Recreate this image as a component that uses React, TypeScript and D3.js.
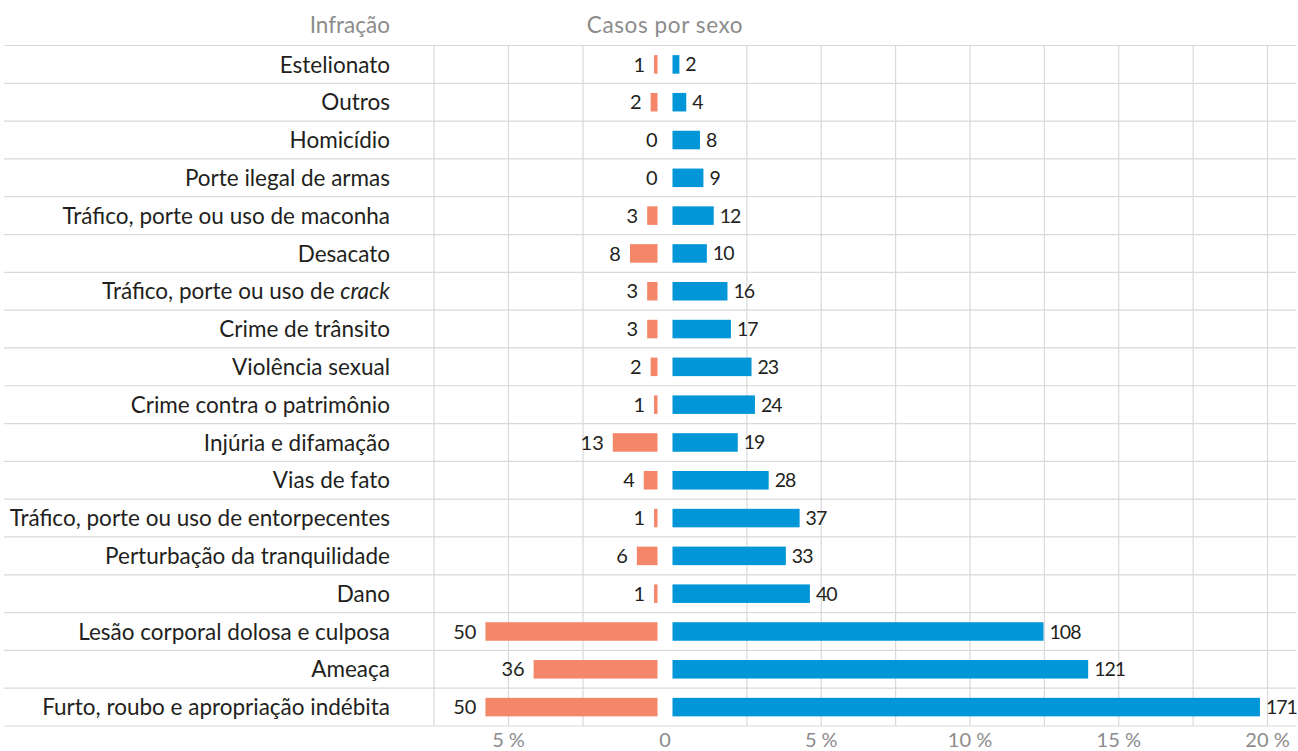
import * as d3 from "d3";

const categories = [
  "Estelionato",
  "Outros",
  "Homicídio",
  "Porte ilegal de armas",
  "Tráfico, porte ou uso de maconha",
  "Desacato",
  "Tráfico, porte ou uso de crack",
  "Crime de trânsito",
  "Violência sexual",
  "Crime contra o patrimônio",
  "Injúria e difamação",
  "Vias de fato",
  "Tráfico, porte ou uso de entorpecentes",
  "Perturbação da tranquilidade",
  "Dano",
  "Lesão corporal dolosa e culposa",
  "Ameaça",
  "Furto, roubo e apropriação indébita",
];
const female = [1, 2, 0, 0, 3, 8, 3, 3, 2, 1, 13, 4, 1, 6, 1, 50, 36, 50];
const male = [2, 4, 8, 9, 12, 10, 16, 17, 23, 24, 19, 28, 37, 33, 40, 108, 121, 171];
const femaleGrid = [0.025, 0.05, 0.075];
const maleGrid = [0.025, 0.05, 0.075, 0.1, 0.125, 0.15, 0.175, 0.2];
const femaleTicks = [0.05];
const maleTicks = [0.05, 0.1, 0.15, 0.2];

const W = 1298;
const H = 751;
const FONT = "Lato, 'Open Sans', sans-serif";
const FEMALE = "#f4866a";
const MALE = "#0096d8";
const GRID = "#d9d9d9";
const GREY = "#8c8c8c";
const INK = "#231f20";

export default function App() {
  const total = d3.sum(female) + d3.sum(male);

  const y = d3.scaleBand().domain(categories).range([45.5, 726]);
  const xF = d3.scaleLinear().domain([0, 0.075]).range([657.5, 434]);
  const xM = d3.scaleLinear().domain([0, 0.2]).range([672.5, 1267.5]);
  const barH = y.bandwidth() * 0.49;
  const pct = d3.format(".0%");
  const fmt = (v: number) => pct(v).replace("%", " %");

  return (
    <svg
      width={W}
      height={H}
      style={{ position: "absolute", left: 0, top: 0, fontFamily: FONT }}
    >
      <rect width={W} height={H} fill="#fff" />

      {/* header */}
      <text x={390} y={33} textAnchor="end" fontSize={22.5} fill={GREY}>
        Infração
      </text>
      <text x={665} y={33} textAnchor="middle" fontSize={22.5} fill={GREY} letterSpacing={0.6}>
        Casos por sexo
      </text>

      {/* grid */}
      {d3.range(categories.length + 1).map((i) => {
        const yy = i < categories.length ? y(categories[i])! : y.range()[1];
        return <line key={"h" + i} x1={4} x2={1296} y1={yy} y2={yy} stroke={GRID} strokeWidth={1.2} />;
      })}
      {femaleGrid.map((d) => (
        <line key={"fg" + d} x1={xF(d)} x2={xF(d)} y1={45.5} y2={726} stroke={GRID} strokeWidth={1.2} />
      ))}
      {maleGrid.map((d) => (
        <line key={"mg" + d} x1={xM(d)} x2={xM(d)} y1={45.5} y2={726} stroke={GRID} strokeWidth={1.2} />
      ))}

      {/* rows */}
      {categories.map((c, i) => {
        const cy = y(c)! + y.bandwidth() / 2;
        const f = female[i] / total;
        const m = male[i] / total;
        const parts = c.split("crack");
        return (
          <g key={c}>
            <text x={390} y={cy} dy="0.36em" textAnchor="end" fontSize={22.5} fill={INK}>
              {parts.length > 1 ? (
                <>
                  {parts[0]}
                  <tspan fontStyle="italic">crack</tspan>
                </>
              ) : (
                c
              )}
            </text>
            {female[i] > 0 && (
              <rect x={xF(f)} y={cy - barH / 2} width={xF(0) - xF(f)} height={barH} fill={FEMALE} />
            )}
            <rect x={xM(0)} y={cy - barH / 2} width={xM(m) - xM(0)} height={barH} fill={MALE} />
            <text
              x={female[i] > 0 ? xF(f) - 9 : xF(0)}
              y={cy}
              dy="0.36em"
              textAnchor="end"
              fontSize={20}
              fill={INK}
            >
              {female[i]}
            </text>
            <text x={xM(m) + 6} y={cy} dy="0.36em" fontSize={19.5} letterSpacing={-1} fill={INK}>
              {male[i]}
            </text>
          </g>
        );
      })}

      {/* axis labels */}
      {femaleTicks.map((d) => (
        <text key={"ft" + d} x={xF(d)} y={747} textAnchor="middle" fontSize={20} fill={GREY}>
          {fmt(d)}
        </text>
      ))}
      <text x={(xF(0) + xM(0)) / 2} y={747} textAnchor="middle" fontSize={20} fill={GREY}>
        0
      </text>
      {maleTicks.map((d) => (
        <text key={"mt" + d} x={xM(d)} y={747} textAnchor="middle" fontSize={20} fill={GREY}>
          {fmt(d)}
        </text>
      ))}
    </svg>
  );
}
